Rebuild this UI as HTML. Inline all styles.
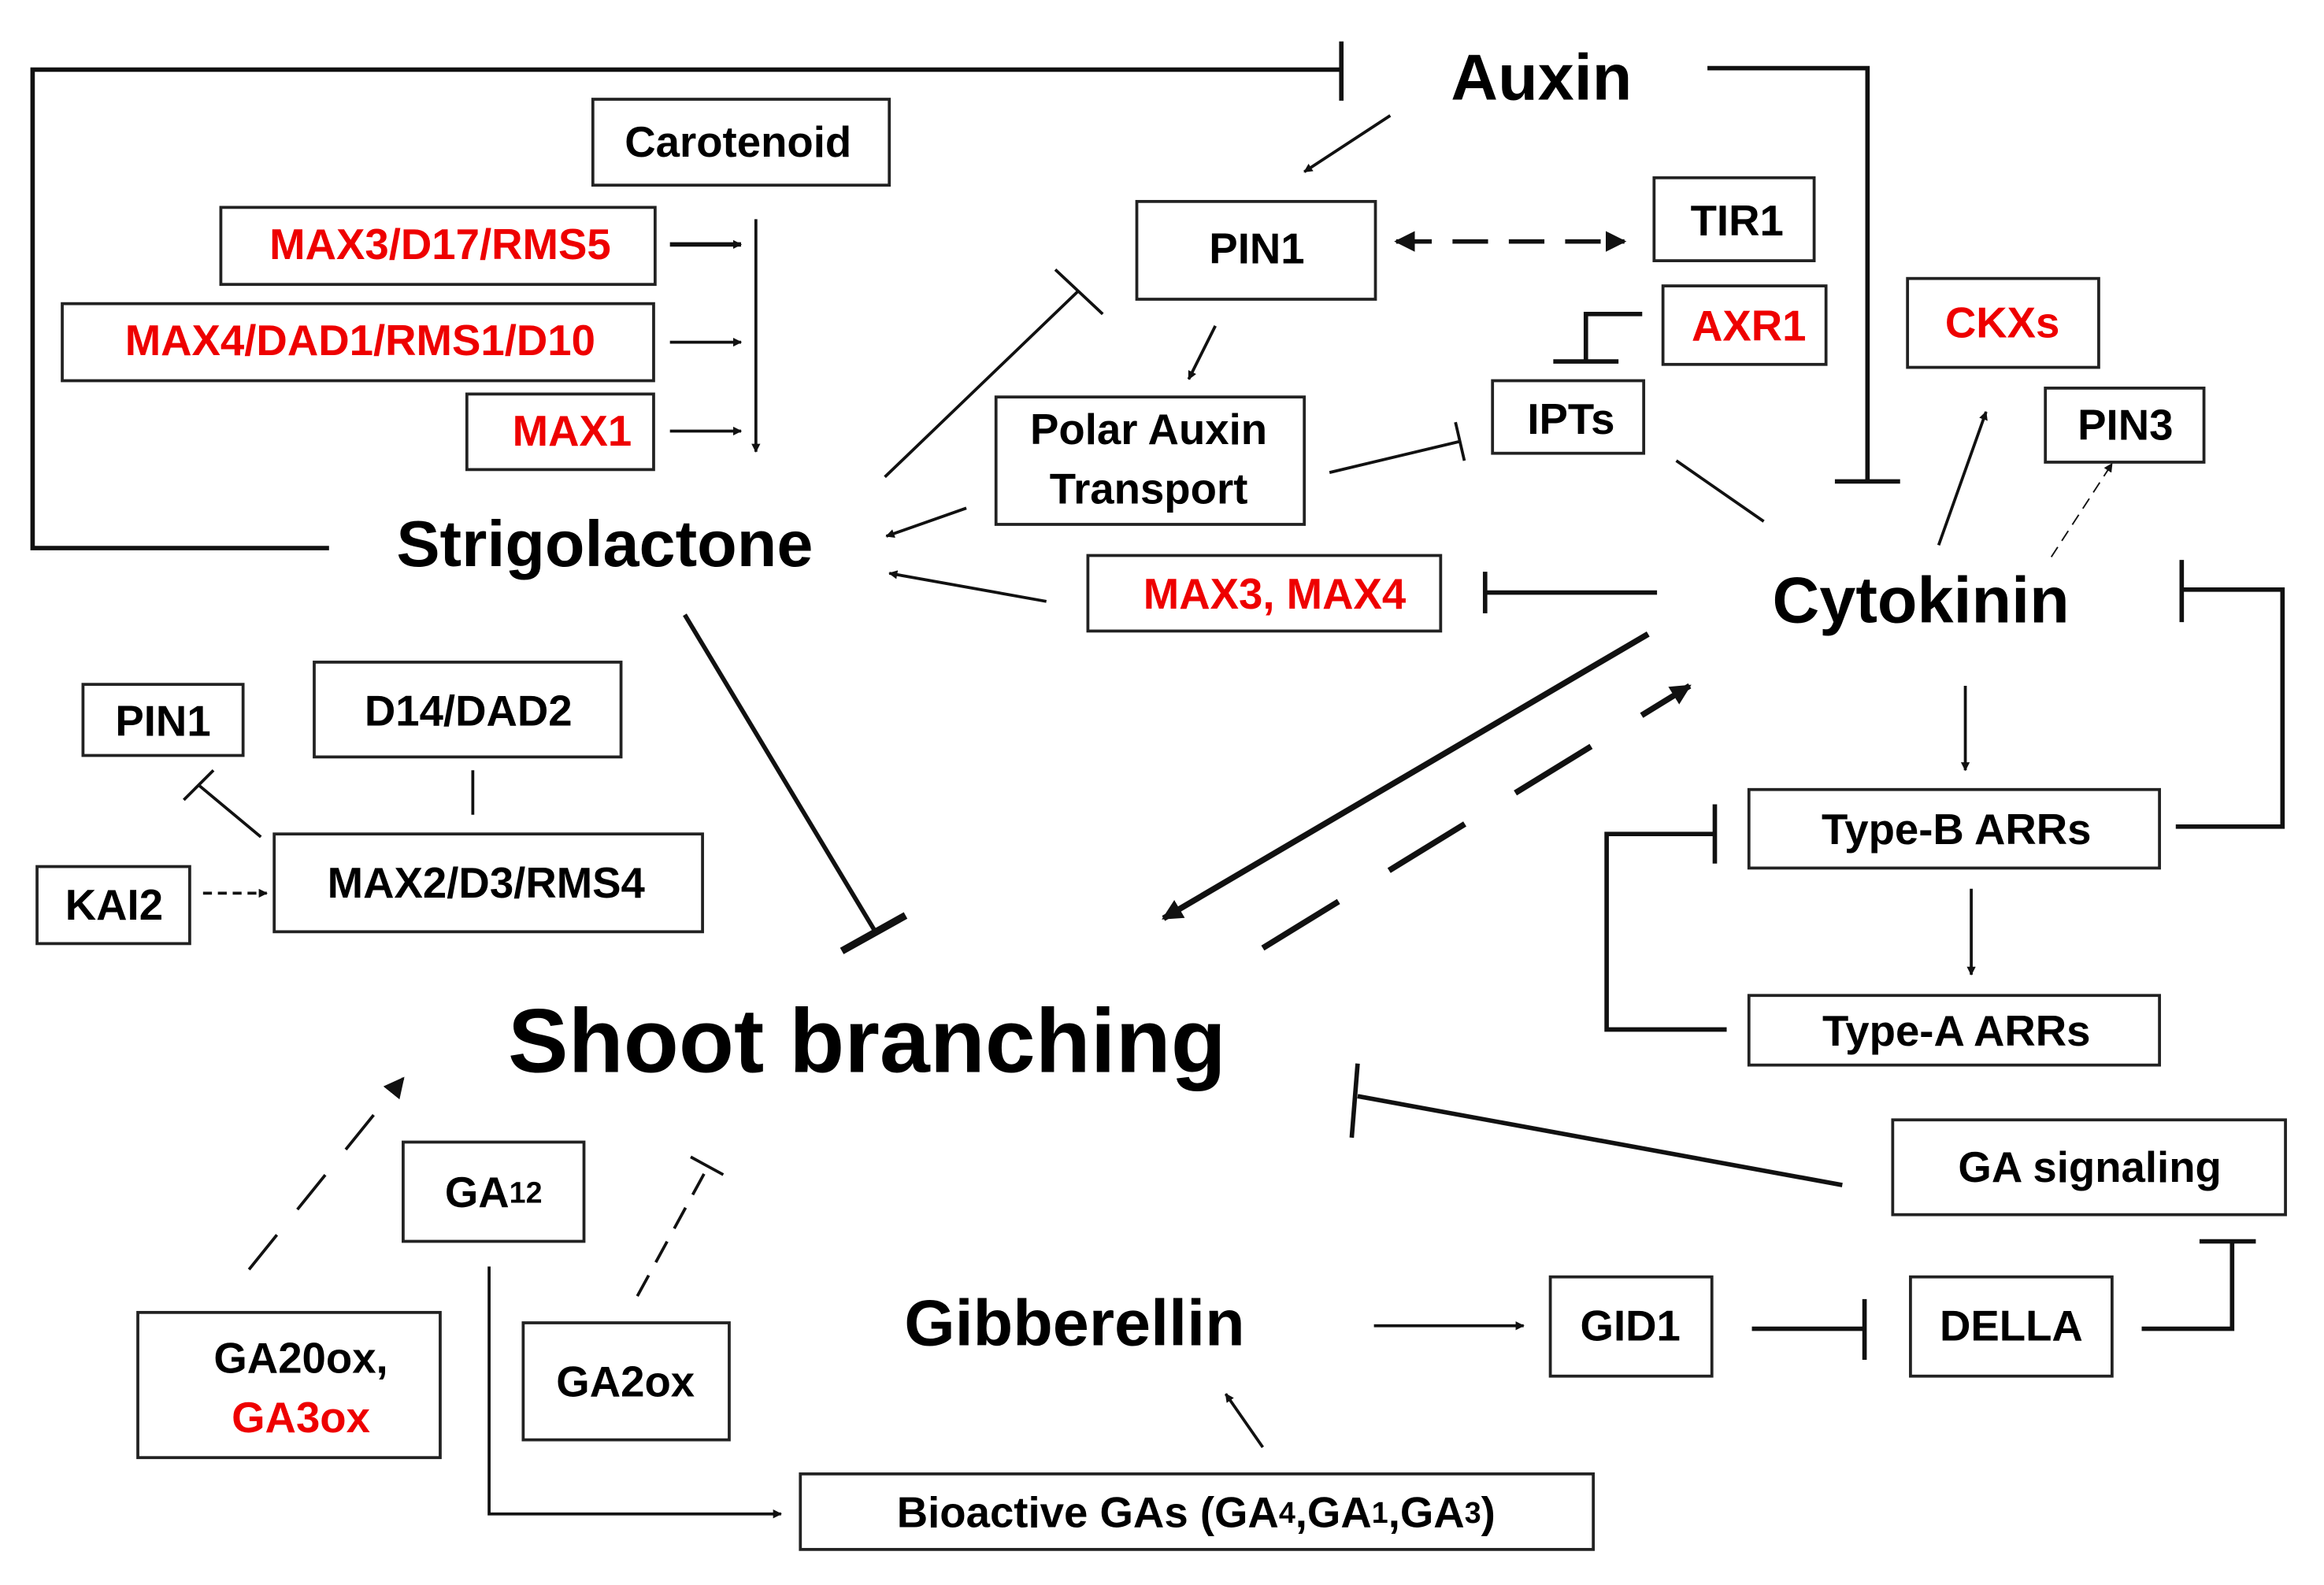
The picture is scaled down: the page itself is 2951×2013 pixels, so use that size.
<!DOCTYPE html>
<html><head><meta charset="utf-8"><style>
html,body{margin:0;padding:0;background:#fff}
svg{display:block}
text{font-family:"Liberation Sans",Arial,sans-serif;font-weight:bold;text-anchor:middle;dominant-baseline:central}
.b{fill:#fff;stroke:#222;stroke-width:2}
.r{fill:#e00}
</style></head><body>
<svg width="2951" height="2013" viewBox="0 0 1568 1070" preserveAspectRatio="none" xmlns="http://www.w3.org/2000/svg">
<defs>
<marker id="a" viewBox="0 0 10 10" refX="9" refY="5" markerWidth="6" markerHeight="6" orient="auto" markerUnits="userSpaceOnUse"><path d="M0,0L10,5L0,10z" fill="#111"/></marker>
<marker id="A" viewBox="0 0 10 10" refX="9" refY="5" markerWidth="14" markerHeight="14" orient="auto-start-reverse" markerUnits="userSpaceOnUse"><path d="M0,0L10,5L0,10z" fill="#111"/></marker>
</defs>
<g stroke="#111" fill="none" stroke-width="3">
<polyline points="905,47 22,47 22,370 222,370"/><line x1="905" y1="28" x2="905" y2="68"/>
<polyline points="1152,46 1260,46 1260,325"/><line x1="1238" y1="325" x2="1282" y2="325"/>
<polyline points="1108,212 1070,212 1070,244"/><line x1="1048" y1="244" x2="1092" y2="244"/>
<line x1="1118" y1="400" x2="1002" y2="400"/><line x1="1002" y1="386" x2="1002" y2="414"/>
<polyline points="1468,558 1540,558 1540,398 1472,398"/><line x1="1472" y1="378" x2="1472" y2="420"/>
<polyline points="1165,695 1084,695 1084,563 1157,563"/><line x1="1157" y1="543" x2="1157" y2="583"/>
<line x1="1182" y1="897" x2="1258" y2="897"/><line x1="1258" y1="877" x2="1258" y2="918"/>
<polyline points="1445,897 1506,897 1506,838"/><line x1="1484" y1="838" x2="1522" y2="838"/>
<line x1="1243" y1="800" x2="916" y2="740"/><line x1="916" y1="718" x2="912" y2="768"/>
<line x1="462" y1="415" x2="590" y2="628"/><line x1="568" y1="642" x2="611" y2="618" stroke-width="5"/>
<line x1="1112" y1="428" x2="785" y2="620" marker-end="url(#A)" stroke-width="4"/>
<line x1="852" y1="640" x2="1140" y2="463" marker-end="url(#A)" stroke-width="4" stroke-dasharray="60,40"/>
<line x1="942" y1="163" x2="1096" y2="163" stroke-dasharray="24,14" marker-start="url(#A)" marker-end="url(#A)"/>
</g>
<g stroke="#111" fill="none" stroke-width="2">
<line x1="597" y1="322" x2="728" y2="196"/><line x1="712" y1="182" x2="744" y2="212"/>
<line x1="897" y1="319" x2="985" y2="298"/><line x1="982" y1="285" x2="988" y2="311"/>
<line x1="176" y1="565" x2="134" y2="530"/><line x1="124" y1="540" x2="144" y2="520"/>
<line x1="430" y1="875" x2="478" y2="787" stroke-dasharray="16,10"/><line x1="466" y1="781" x2="488" y2="793"/>
<line x1="319" y1="520" x2="319" y2="550"/>
<line x1="938" y1="78" x2="880" y2="116" marker-end="url(#a)"/>
<line x1="452" y1="165" x2="500" y2="165" marker-end="url(#a)" stroke-width="3"/>
<line x1="452" y1="231" x2="500" y2="231" marker-end="url(#a)"/>
<line x1="452" y1="291" x2="500" y2="291" marker-end="url(#a)"/>
<line x1="510" y1="148" x2="510" y2="305" marker-end="url(#a)"/>
<line x1="820" y1="220" x2="802" y2="256" marker-end="url(#a)"/>
<line x1="652" y1="343" x2="598" y2="362" marker-end="url(#a)"/>
<line x1="706" y1="406" x2="600" y2="387" marker-end="url(#a)"/>
<line x1="1131" y1="311" x2="1190" y2="352"/>
<line x1="1308" y1="368" x2="1340" y2="278" marker-end="url(#a)"/>
<line x1="1384" y1="376" x2="1425" y2="313" marker-end="url(#a)" stroke-width="1" stroke-dasharray="8,5"/>
<line x1="1326" y1="463" x2="1326" y2="520" marker-end="url(#a)"/>
<line x1="1330" y1="600" x2="1330" y2="658" marker-end="url(#a)"/>
<line x1="137" y1="603" x2="180" y2="603" marker-end="url(#a)" stroke-dasharray="6,4"/>
<line x1="168" y1="857" x2="272" y2="728" marker-end="url(#A)" stroke-dasharray="30,22"/>
<polyline points="330,855 330,1022 527,1022" marker-end="url(#a)"/>
<line x1="852" y1="977" x2="827" y2="941" marker-end="url(#a)"/>
<line x1="927" y1="895" x2="1028" y2="895" marker-end="url(#a)"/>
</g>
<rect class="b" x="400" y="67" width="200" height="58"/>
<rect class="b" x="149" y="140" width="293" height="52"/>
<rect class="b" x="42" y="205" width="399" height="52"/>
<rect class="b" x="315" y="266" width="126" height="51"/>
<rect class="b" x="767" y="136" width="161" height="66"/>
<rect class="b" x="1116" y="120" width="108" height="56"/>
<rect class="b" x="1122" y="193" width="110" height="53"/>
<rect class="b" x="1007" y="257" width="102" height="49"/>
<rect class="b" x="1287" y="188" width="129" height="60"/>
<rect class="b" x="1380" y="262" width="107" height="50"/>
<rect class="b" x="672" y="268" width="208" height="86"/>
<rect class="b" x="734" y="375" width="238" height="51"/>
<rect class="b" x="1180" y="533" width="277" height="53"/>
<rect class="b" x="1180" y="672" width="277" height="47"/>
<rect class="b" x="56" y="462" width="108" height="48"/>
<rect class="b" x="212" y="447" width="207" height="64"/>
<rect class="b" x="185" y="563" width="289" height="66"/>
<rect class="b" x="25" y="585" width="103" height="52"/>
<rect class="b" x="1277" y="756" width="265" height="64"/>
<rect class="b" x="1046" y="862" width="109" height="67"/>
<rect class="b" x="1289" y="862" width="136" height="67"/>
<rect class="b" x="272" y="771" width="122" height="67"/>
<rect class="b" x="540" y="995" width="535" height="51"/>
<rect class="b" x="93" y="886" width="204" height="98"/>
<rect class="b" x="353" y="893" width="139" height="79"/>
<g font-size="29">
<text x="498" y="96">Carotenoid</text>
<text class="r" x="297" y="165">MAX3/D17/RMS5</text>
<text class="r" x="243" y="230">MAX4/DAD1/RMS1/D10</text>
<text class="r" x="386" y="291">MAX1</text>
<text x="848" y="168">PIN1</text>
<text x="1172" y="149">TIR1</text>
<text class="r" x="1180" y="220">AXR1</text>
<text x="1060" y="283">IPTs</text>
<text class="r" x="1351" y="218">CKXs</text>
<text x="1434" y="287">PIN3</text>
<text x="775" y="290">Polar Auxin</text>
<text x="775" y="330">Transport</text>
<text class="r" x="860" y="401">MAX3, MAX4</text>
<text x="1320" y="560">Type-B ARRs</text>
<text x="1320" y="696">Type-A ARRs</text>
<text x="110" y="487">PIN1</text>
<text x="316" y="480">D14/DAD2</text>
<text x="328" y="596">MAX2/D3/RMS4</text>
<text x="77" y="611">KAI2</text>
<text x="1410" y="788">GA signaling</text>
<text x="1100" y="895">GID1</text>
<text x="1357" y="895">DELLA</text>
<text x="333" y="805">GA<tspan font-size="20">12</tspan></text>
<text x="807" y="1021">Bioactive GAs (GA<tspan font-size="20">4</tspan>,GA<tspan font-size="20">1</tspan>,GA<tspan font-size="20">3</tspan>)</text>
<text x="203" y="917">GA20ox,</text>
<text class="r" x="203" y="957">GA3ox</text>
<text x="422" y="933">GA2ox</text>
</g>
<text x="1040" y="52" font-size="44">Auxin</text>
<text x="408" y="367" font-size="44">Strigolactone</text>
<text x="1296" y="405" font-size="44">Cytokinin</text>
<text x="585" y="703" font-size="61">Shoot branching</text>
<text x="725" y="893" font-size="44">Gibberellin</text>
</svg>
</body></html>
